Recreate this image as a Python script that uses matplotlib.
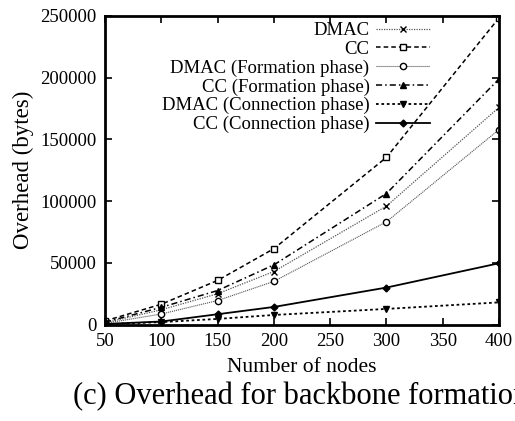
import matplotlib
matplotlib.use('Agg')
import matplotlib.pyplot as plt

plt.rcParams['font.family'] = ['Liberation Serif', 'DejaVu Serif']

nodes = [50, 100, 150, 200, 300, 400]
dmac = [1500, 12000, 25000, 43000, 96000, 176000]
cc = [3000, 16500, 35800, 61500, 135500, 248500]
dmac_form = [1000, 8600, 19500, 35000, 83300, 158000]
cc_form = [2000, 14000, 27600, 48400, 106200, 199000]
dmac_conn = [300, 2000, 4600, 7800, 12700, 18000]
cc_conn = [500, 2500, 8400, 14300, 30000, 49700]

x_ticks = [50, 100, 150, 200, 250, 300, 350, 400]
y_ticks = [0, 50000, 100000, 150000, 200000, 250000]

fig = plt.figure(figsize=(5.15, 4.21), dpi=100)
ax = fig.add_axes([0.204, 0.229, 0.765, 0.733])

ms = 4.5
ax.plot(nodes, dmac, color='#555555', linestyle=(0, (1, 1)), lw=0.9, marker='x', ms=ms, mec='k', mew=1.0, label='DMAC')
ax.plot(nodes, cc, color='k', linestyle=(0, (3, 2)), lw=1.1, marker='s', ms=ms, mfc='white', mec='k', mew=1.0, label='CC')
ax.plot(nodes, dmac_form, color='#555555', linestyle=(0, (1, 0.8)), lw=0.8, marker='o', ms=ms, mfc='white', mec='k', mew=1.0, label='DMAC (Formation phase)')
ax.plot(nodes, cc_form, color='k', linestyle=(0, (4, 2, 1, 2)), lw=1.1, marker='^', ms=ms, mfc='k', mec='k', label='CC (Formation phase)')
ax.plot(nodes, dmac_conn, color='k', linestyle=(0, (1.5, 1.5)), lw=1.3, marker='v', ms=ms, mfc='k', mec='k', label='DMAC (Connection phase)')
ax.plot(nodes, cc_conn, color='k', linestyle='-', lw=1.3, marker='D', ms=3.5, mfc='k', mec='k', label='CC (Connection phase)')

ax.set_xlim(50, 400)
ax.set_ylim(0, 250000)
ax.set_xticks(x_ticks)
ax.set_yticks(y_ticks)
ax.tick_params(direction='in', top=True, right=True, length=5, width=1.2, labelsize=13.5, pad=6)
for s in ax.spines.values():
    s.set_linewidth(2.0)

ax.set_xlabel('Number of nodes', fontsize=15.5, labelpad=6)
ax.set_ylabel('Overhead (bytes)', fontsize=16.5, labelpad=5)

ax.legend(loc='upper right', bbox_to_anchor=(0.826, 0.98), frameon=False, markerfirst=False,
          fontsize=13.5, handlelength=2.9, handletextpad=0.35, labelspacing=0.08,
          borderaxespad=0, borderpad=0)

# caption is cut at the right edge in the original too
fig.text(0.583, 0.057, '(c) Overhead for backbone formation', fontsize=22, ha='center', va='center')

fig.savefig('out.png', dpi=100)
